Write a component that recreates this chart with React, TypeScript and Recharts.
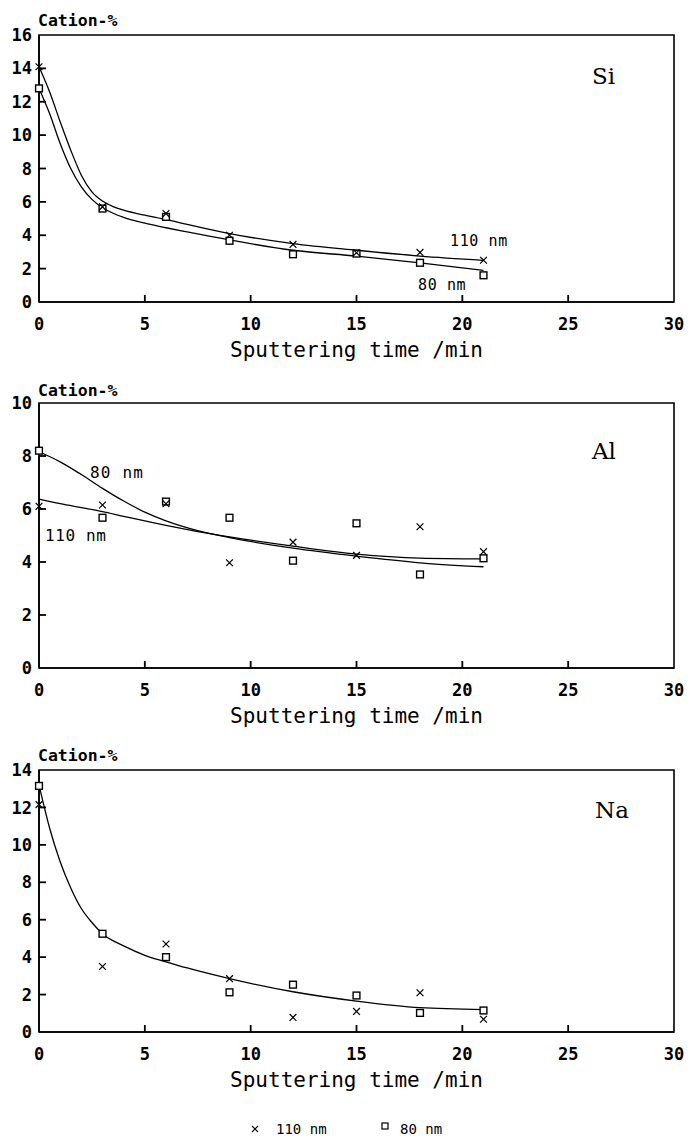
import React from 'react';
import { ComposedChart, Line, Scatter, XAxis, YAxis, ReferenceArea } from 'recharts';

// sampling times (min)
const timeMin = [0, 3, 6, 9, 12, 15, 18, 21];
const xTicks = [0, 5, 10, 15, 20, 25, 30];

// Si panel
const si110 = [14.1, 5.7, 5.3, 4.0, 3.45, 2.95, 2.97, 2.5];
const si80 = [12.8, 5.6, 5.1, 3.67, 2.86, 2.9, 2.35, 1.6];
const siFitX = [0, 0.5, 1, 1.5, 2, 2.5, 3, 3.5, 4, 5, 6, 7, 9, 12, 15, 18, 21];
const siFit110 = [14.1, 12.6, 10.8, 9.1, 7.6, 6.6, 6.05, 5.72, 5.5, 5.2, 4.95, 4.65, 4.1, 3.5, 3.1, 2.75, 2.5];
const siFit80 = [12.8, 11.3, 9.5, 8.0, 6.9, 6.15, 5.65, 5.32, 5.07, 4.72, 4.45, 4.2, 3.72, 3.1, 2.75, 2.35, 1.9];
const siTicks = [0, 2, 4, 6, 8, 10, 12, 14, 16];

// Al panel
const al110 = [6.1, 6.15, 6.2, 3.97, 4.75, 4.25, 5.33, 4.39];
const al80 = [8.2, 5.67, 6.28, 5.67, 4.05, 5.46, 3.53, 4.14];
const alFitX = [0, 1, 2, 3, 4, 5, 6, 7.5, 9, 12, 15, 18, 21];
const alFit110 = [6.37, 6.2, 6.05, 5.9, 5.72, 5.55, 5.38, 5.15, 4.95, 4.6, 4.3, 4.15, 4.12];
const alFit80 = [8.16, 7.78, 7.3, 6.78, 6.3, 5.88, 5.55, 5.18, 4.92, 4.52, 4.22, 3.97, 3.82];
const alTicks = [0, 2, 4, 6, 8, 10];

// Na panel
const na110 = [12.15, 3.5, 4.7, 2.85, 0.78, 1.1, 2.1, 0.68];
const na80 = [13.15, 5.25, 4.0, 2.12, 2.53, 1.95, 1.02, 1.15];
const naFitX = [0, 0.5, 1, 1.5, 2, 2.5, 3, 4, 5, 6, 7, 9, 12, 15, 18, 21];
const naFit = [13.2, 10.9, 9.1, 7.7, 6.6, 5.85, 5.25, 4.6, 4.1, 3.75, 3.42, 2.85, 2.15, 1.65, 1.3, 1.2];
const naTicks = [0, 2, 4, 6, 8, 10, 12, 14];

const MONO = '"DejaVu Sans Mono", monospace';
const SERIF = '"DejaVu Serif", serif';
const X_MARGIN = 14;
const Y_MARGIN = 7;
const TICK_PX = 7;

const toPts = (xs: number[], ys: number[]) => xs.map((t, i) => ({ t, v: ys[i] }));

const XMark = (props: any) => {
  const { cx, cy } = props;
  if (cx == null || cy == null) return null;
  const s = 3.4;
  return (
    <path
      d={`M${cx - s},${cy - s}L${cx + s},${cy + s}M${cx - s},${cy + s}L${cx + s},${cy - s}`}
      stroke="#000"
      strokeWidth={1.2}
      fill="none"
    />
  );
};

const SqMark = (props: any) => {
  const { cx, cy } = props;
  if (cx == null || cy == null) return null;
  const s = 3.4;
  return <rect x={cx - s} y={cy - s} width={2 * s} height={2 * s} fill="#fff" stroke="#000" strokeWidth={1.4} />;
};

// inward tick marks, placed at the axis positions through the scales
const XTickMark = (props: any) => {
  const { cx, cy } = props;
  if (cx == null || cy == null) return null;
  return <path d={`M${cx},${cy}L${cx},${cy - TICK_PX}`} stroke="#000" strokeWidth={1.8} fill="none" />;
};
const YTickMark = (props: any) => {
  const { cx, cy } = props;
  if (cx == null || cy == null) return null;
  return <path d={`M${cx},${cy}L${cx + TICK_PX},${cy}`} stroke="#000" strokeWidth={1.8} fill="none" />;
};

const XTick = (props: any) => {
  const { x, y, payload } = props;
  return (
    <text x={x} y={y + 2} dy="0.71em" textAnchor="middle" fontFamily={MONO} fontWeight="bold" fontSize={17} fill="#000">
      {payload.value}
    </text>
  );
};

const YTick = (props: any) => {
  const { x, y, payload } = props;
  return (
    <text x={x} y={y} dy="0.36em" textAnchor="end" fontFamily={MONO} fontWeight="bold" fontSize={17} fill="#000">
      {payload.value}
    </text>
  );
};

type Fit = { xs: number[]; ys: number[] };
type PanelProps = {
  top: number;
  height: number;
  marginTop: number;
  yMax: number;
  yTicks: number[];
  fits: Fit[];
  p110: number[];
  p80: number[];
};

const Panel = ({ top, height, marginTop, yMax, yTicks, fits, p110, p80 }: PanelProps) => {
  const xTickPts = xTicks.slice(1, -1).map((t) => ({ t, v: 0 }));
  const yTickPts = yTicks.slice(1, -1).map((v) => ({ t: 0, v }));
  return (
    <div style={{ position: 'absolute', left: 0, top, width: 690, height }}>
      <ComposedChart width={690} height={height} margin={{ top: marginTop, right: 16, bottom: 0, left: 0 }}>
        <XAxis
          type="number"
          dataKey="t"
          domain={[0, 30]}
          ticks={xTicks}
          interval={0}
          height={60}
          tickSize={0}
          tickMargin={X_MARGIN}
          tick={<XTick />}
          axisLine={{ stroke: '#000', strokeWidth: 1.6 }}
          tickLine={false}
          label={{
            value: 'Sputtering time /min',
            position: 'insideBottom',
            offset: 5,
            fontFamily: MONO,
            fontSize: 21,
            fill: '#000',
          }}
        />
        <YAxis
          type="number"
          domain={[0, yMax]}
          ticks={yTicks}
          interval={0}
          width={39}
          tickSize={0}
          tickMargin={Y_MARGIN}
          tick={<YTick />}
          axisLine={{ stroke: '#000', strokeWidth: 1.6 }}
          tickLine={false}
        />
        <ReferenceArea x1={0} x2={30} y1={0} y2={yMax} fill="none" stroke="#000" strokeWidth={1.6} />
        <Scatter data={xTickPts} dataKey="v" shape={<XTickMark />} isAnimationActive={false} />
        <Scatter data={yTickPts} dataKey="v" shape={<YTickMark />} isAnimationActive={false} />
        {fits.map((f, i) => (
          <Line
            key={i}
            data={toPts(f.xs, f.ys)}
            dataKey="v"
            type="monotone"
            stroke="#000"
            strokeWidth={1.3}
            dot={false}
            isAnimationActive={false}
          />
        ))}
        <Scatter data={toPts(timeMin, p80)} dataKey="v" shape={<SqMark />} isAnimationActive={false} />
        <Scatter data={toPts(timeMin, p110)} dataKey="v" shape={<XMark />} isAnimationActive={false} />
      </ComposedChart>
    </div>
  );
};

export default function App() {
  const txt = { fontFamily: MONO, fill: '#000' };
  return (
    <div style={{ position: 'absolute', left: 0, top: 0, width: 690, height: 1137, background: '#fff' }}>
      <Panel
        top={0}
        height={362}
        marginTop={35}
        yMax={16}
        yTicks={siTicks}
        fits={[
          { xs: siFitX, ys: siFit110 },
          { xs: siFitX, ys: siFit80 },
        ]}
        p110={si110}
        p80={si80}
      />
      <Panel
        top={365}
        height={363}
        marginTop={38}
        yMax={10}
        yTicks={alTicks}
        fits={[
          { xs: alFitX, ys: alFit110 },
          { xs: alFitX, ys: alFit80 },
        ]}
        p110={al110}
        p80={al80}
      />
      <Panel
        top={730}
        height={362}
        marginTop={40}
        yMax={14}
        yTicks={naTicks}
        fits={[{ xs: naFitX, ys: naFit }]}
        p110={na110}
        p80={na80}
      />
      <svg
        width={690}
        height={1137}
        style={{ position: 'absolute', left: 0, top: 0, pointerEvents: 'none' }}
      >
        <text x={38} y={26} {...txt} fontSize={16.5} fontWeight="bold">Cation-%</text>
        <text x={38} y={396} {...txt} fontSize={16.5} fontWeight="bold">Cation-%</text>
        <text x={38} y={761} {...txt} fontSize={16.5} fontWeight="bold">Cation-%</text>

        <text x={592} y={84} fontFamily={SERIF} fontSize={23} fill="#000">Si</text>
        <text x={592} y={459} fontFamily={SERIF} fontSize={23} fill="#000">Al</text>
        <text x={595} y={818} fontFamily={SERIF} fontSize={23} fill="#000">Na</text>

        <text x={450} y={246} {...txt} fontSize={15} letterSpacing={0.6}>110 nm</text>
        <text x={418} y={290} {...txt} fontSize={15} letterSpacing={0.6}>80 nm</text>
        <text x={90} y={478} {...txt} fontSize={16} letterSpacing={1.2}>80 nm</text>
        <text x={45} y={541} {...txt} fontSize={16} letterSpacing={0.6}>110 nm</text>

        <path d="M252,1126L258,1132M252,1132L258,1126" stroke="#000" strokeWidth={1.1} />
        <text x={276} y={1134} {...txt} fontSize={14}>110 nm</text>
        <rect x={382} y={1123} width={6} height={6} fill="#fff" stroke="#000" strokeWidth={1.2} />
        <text x={400} y={1134} {...txt} fontSize={14}>80 nm</text>
      </svg>
    </div>
  );
}
